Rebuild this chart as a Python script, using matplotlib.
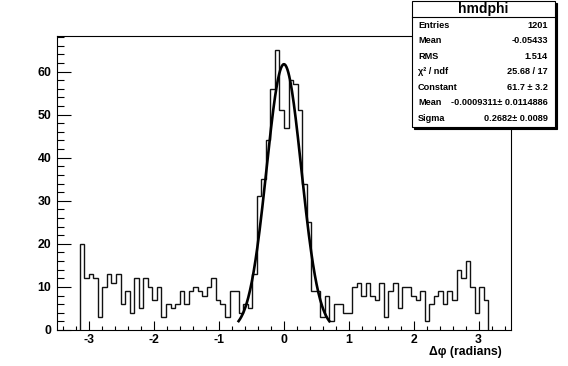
import numpy as np
import matplotlib
matplotlib.use('Agg')
import matplotlib.pyplot as plt
from matplotlib.patches import Rectangle
from matplotlib.lines import Line2D
from matplotlib.ticker import MultipleLocator

W, H = 568, 366  # output size in pixels

# histogram hmdphi: 100 bins on (-3.5, 3.5); filled bins start at bin 5
x_lo, x_hi, n_bins = -3.5, 3.5, 100
first_bin = 5
counts = [20, 12, 13, 12, 3, 10, 13, 11, 13, 6,
          9, 4, 12, 5, 12, 10, 7, 10, 3, 6,
          5, 6, 9, 6, 9, 10, 9, 8, 10, 12,
          7, 6, 3, 9, 9, 4, 6, 5, 13, 31,
          35, 44, 56, 65, 51, 47, 58, 57, 51, 34,
          25, 9, 9, 3, 8, 2, 6, 6, 4, 4,
          10, 11, 8, 11, 8, 7, 11, 3, 9, 11,
          5, 10, 10, 8, 7, 9, 2, 6, 8, 9,
          6, 9, 7, 14, 12, 16, 10, 4, 10, 7]

# gaussian fit
fit_const, fit_mean, fit_sigma = 61.7, -0.0009311, 0.2682
fit_lo, fit_hi = -0.7, 0.7

# stats box
stat_title = 'hmdphi'
stat_names = ['Entries', 'Mean', 'RMS', 'χ² / ndf', 'Constant', 'Mean', 'Sigma']
stat_values = ['1201', '-0.05433', '1.514', '25.68 / 17', '61.7 ± 3.2',
               '-0.0009311± 0.0114886', '0.2682± 0.0089']

x_title = 'Δφ (radians)'

plt.rcParams['font.family'] = ['Liberation Sans', 'DejaVu Sans']
plt.rcParams['axes.unicode_minus'] = False


def px(x, y):
    # pixel position (from top-left) to figure fraction
    return x / W, 1 - y / H


fig = plt.figure(figsize=(W / 100, H / 100), dpi=100)
fig.patch.set_facecolor('white')

# axes frame: left 57, right 511, top 36, bottom 330 (pixels)
l, t, r, b = 57, 36, 511, 330
ax = fig.add_axes([l / W, 1 - b / H, (r - l) / W, (b - t) / H])

edges = np.linspace(x_lo, x_hi, n_bins + 1)
filled = edges[first_bin:first_bin + len(counts) + 1]
ax.stairs(counts, filled, color='#111111', lw=1.0)

xf = np.linspace(fit_lo, fit_hi, 200)
yf = fit_const * np.exp(-0.5 * ((xf - fit_mean) / fit_sigma) ** 2)
ax.plot(xf, yf, color='black', lw=1.9)

ax.set_xlim(x_lo, x_hi)
ax.set_ylim(0, max(counts) * 1.05)

ax.xaxis.set_major_locator(MultipleLocator(1))
ax.xaxis.set_minor_locator(MultipleLocator(0.2))
ax.yaxis.set_major_locator(MultipleLocator(10))
ax.yaxis.set_minor_locator(MultipleLocator(2))
ax.tick_params(axis='both', which='both', direction='in', top=False, right=False,
               width=0.8, labelsize=8.8)
ax.tick_params(axis='x', which='major', length=6.5, pad=3)
ax.tick_params(axis='x', which='minor', length=3.2)
ax.tick_params(axis='y', which='major', length=9.8, pad=4)
ax.tick_params(axis='y', which='minor', length=4.9)
for lab in ax.get_xticklabels() + ax.get_yticklabels():
    lab.set_fontweight('bold')
for sp in ax.spines.values():
    sp.set_linewidth(0.8)

fx, fy = px(502, 352)
fig.text(fx, fy, x_title, ha='right', va='center', fontsize=8.8, fontweight='bold')

# stats box, with a small shadow
bx0, by0, bx1, by1 = 412, 0.5, 555, 127
sx, sy = px(bx0 + 2, by1 + 2)
fig.patches.append(Rectangle((sx, sy), (bx1 - bx0) / W, (by1 - by0) / H,
                             transform=fig.transFigure, facecolor='black',
                             edgecolor='black', lw=0.8, zorder=5))
bx, by = px(bx0, by1)
fig.patches.append(Rectangle((bx, by), (bx1 - bx0) / W, (by1 - by0) / H,
                             transform=fig.transFigure, facecolor='white',
                             edgecolor='black', lw=0.8, zorder=6))
lx0, ly = px(bx0, 16.7)
lx1, _ = px(bx1, 16.7)
fig.lines.append(Line2D([lx0, lx1], [ly, ly], transform=fig.transFigure,
                        color='black', lw=0.8, zorder=7))
tx, ty = px((bx0 + bx1) / 2, 8.5)
fig.text(tx, ty, stat_title, ha='center', va='center', fontsize=10,
         fontweight='bold', zorder=8)
row_y = 25
for name, val in zip(stat_names, stat_values):
    nx, ny = px(418, row_y)
    vx, _ = px(548, row_y)
    fig.text(nx, ny, name, ha='left', va='center', fontsize=6.6,
             fontweight='bold', zorder=8)
    fig.text(vx, ny, val, ha='right', va='center', fontsize=6.6,
             fontweight='bold', zorder=8)
    row_y += 15.55

fig.savefig('out.png', dpi=100)
